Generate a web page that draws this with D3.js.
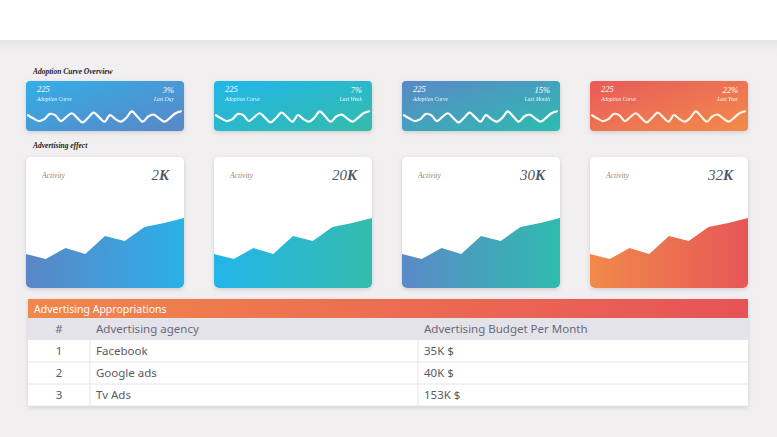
<!DOCTYPE html>
<html><head><meta charset="utf-8">
<script src="https://cdn.jsdelivr.net/npm/d3@7/dist/d3.min.js"></script>
<style>
html,body{margin:0;padding:0;background:#f1eff0;}
svg{display:block;}
</style></head>
<body>
<svg id="chart" width="777" height="437"></svg>
<script>
// ---------- DATA ----------
const overviewCards = ["Last Day", "Last Week", "Last Month", "Last Year"];
const overviewCounts = ["225", "225", "225", "225"];
const overviewPercents = ["3%", "7%", "15%", "22%"];
const sparkValues = [6, 3.5, 1.5, 3, 7, 6, 1.5, 4.5, 7.5, 4, 0.5, 4, 8, 4.5, 1, 6, 3, 1, 4, 9, 5, 1, 5, 6.5, 3.5, 1, 4, 7.5, 9];
const activityTotals = ["2", "20", "30", "32"];
const activityValues = [34, 29, 40, 34, 52, 47, 61, 65, 70];
const tableHeaders = ["#", "Advertising agency", "Advertising Budget Per Month"];
const agencyIds = ["1", "2", "3"];
const agencies = ["Facebook", "Google ads", "Tv Ads"];
const budgets = ["35K $", "40K $", "153K $"];

// ---------- STYLE ----------
const smallGrad = [["#33aee6", "#5b86c6"], ["#22b6ea", "#33bcaa"], ["#5a88c8", "#2dbcb0"], ["#e85a5a", "#f28c4a"]];
const bigGrad = [["#5b86c5", "#2bb0e8"], ["#23b5ea", "#33bcae"], ["#5b89c8", "#2fbbaf"], ["#f18a4a", "#e75658"]];
const serif = "'Liberation Serif','DejaVu Serif',serif";
const sans = "'Noto Sans','Open Sans',sans-serif";

const svg = d3.select("#chart");
const defs = svg.append("defs");

const sh = defs.append("filter").attr("id", "shadow").attr("x", "-10%").attr("y", "-10%").attr("width", "120%").attr("height", "130%");
sh.append("feDropShadow").attr("dx", 0).attr("dy", 1.5).attr("stdDeviation", 2).attr("flood-color", "#8a8a99").attr("flood-opacity", 0.35);

// top band
const topG = defs.append("linearGradient").attr("id", "topShade").attr("x1", 0).attr("y1", 0).attr("x2", 0).attr("y2", 1);
topG.append("stop").attr("offset", 0).attr("stop-color", "#e3e2e6");
topG.append("stop").attr("offset", 1).attr("stop-color", "#f1eff0");
svg.append("rect").attr("x", 0).attr("y", 40).attr("width", 777).attr("height", 10).attr("fill", "url(#topShade)");
svg.append("rect").attr("x", 0).attr("y", 0).attr("width", 777).attr("height", 40).attr("fill", "#ffffff");

// card positions
const xCard = d3.scaleBand().domain(d3.range(4)).range([26, 748]).paddingInner(30 / 188).paddingOuter(0);
const cw = xCard.bandwidth();

// section titles
svg.append("text").attr("x", 33).attr("y", 74).text("Adoption Curve Overview")
  .attr("font-family", serif).attr("font-style", "italic").attr("font-weight", "bold").attr("font-size", 7.5).attr("fill", "#222");
svg.append("text").attr("x", 33).attr("y", 148).text("Advertising effect")
  .attr("font-family", serif).attr("font-style", "italic").attr("font-weight", "bold").attr("font-size", 7.5).attr("fill", "#222");

// ---------- small overview cards ----------
const sy = 81, sh_ = 50;
const sxSpark = d3.scaleLinear().domain([0, sparkValues.length - 1]).range([2, cw - 3]);
const sySpark = d3.scaleLinear().domain([0, 10]).range([sy + 42, sy + 29]);
const sparkLine = d3.line().x((d, i) => sxSpark(i)).y(d => sySpark(d)).curve(d3.curveCatmullRom.alpha(0.5));

overviewCards.forEach((lab, i) => {
  const g = defs.append("linearGradient").attr("id", "sg" + i).attr("x1", 0).attr("y1", 0).attr("x2", 1).attr("y2", 1);
  g.append("stop").attr("offset", 0).attr("stop-color", smallGrad[i][0]);
  g.append("stop").attr("offset", 1).attr("stop-color", smallGrad[i][1]);
  const x0 = xCard(i);
  const c = svg.append("g").attr("transform", `translate(${x0},0)`);
  c.append("rect").attr("x", 0).attr("y", sy).attr("width", cw).attr("height", sh_).attr("rx", 4)
    .attr("fill", `url(#sg${i})`).attr("filter", "url(#shadow)");
  c.append("path").datum(sparkValues).attr("d", sparkLine).attr("fill", "none")
    .attr("stroke", i === 3 ? "#fdf3e0" : "#ffffff").attr("stroke-width", 2.2).attr("stroke-linecap", "round");
  c.append("text").attr("x", 11).attr("y", sy + 11).text(overviewCounts[i])
    .attr("font-family", serif).attr("font-style", "italic").attr("font-size", 8.5).attr("fill", "#fff");
  c.append("text").attr("x", 11).attr("y", sy + 20).text("Adoption Curve")
    .attr("font-family", serif).attr("font-style", "italic").attr("font-size", 5.5).attr("fill", "#fff").attr("opacity", 0.9);
  c.append("text").attr("x", cw - 10).attr("y", sy + 12).attr("text-anchor", "end").text(overviewPercents[i])
    .attr("font-family", serif).attr("font-style", "italic").attr("font-size", 8.5).attr("fill", "#fff");
  c.append("text").attr("x", cw - 10).attr("y", sy + 20).attr("text-anchor", "end").text(lab)
    .attr("font-family", serif).attr("font-style", "italic").attr("font-size", 5.5).attr("fill", "#fff").attr("opacity", 0.9);
});

// ---------- big activity cards ----------
const by = 157, bh = 131;
const bxA = d3.scaleLinear().domain([0, activityValues.length - 1]).range([0, cw]);
const byA = d3.scaleLinear().domain([0, 100]).range([by + bh, by + bh - 100]);
const area = d3.area().x((d, i) => bxA(i)).y0(by + bh).y1(d => byA(d));

activityTotals.forEach((tot, i) => {
  const g = defs.append("linearGradient").attr("id", "bg" + i).attr("x1", 0).attr("y1", 0).attr("x2", 1).attr("y2", 0);
  g.append("stop").attr("offset", 0).attr("stop-color", bigGrad[i][0]);
  g.append("stop").attr("offset", 1).attr("stop-color", bigGrad[i][1]);
  defs.append("clipPath").attr("id", "clip" + i).append("rect")
    .attr("x", 0).attr("y", by).attr("width", cw).attr("height", bh).attr("rx", 5);
  const x0 = xCard(i);
  const c = svg.append("g").attr("transform", `translate(${x0},0)`);
  c.append("rect").attr("x", 0).attr("y", by).attr("width", cw).attr("height", bh).attr("rx", 5)
    .attr("fill", "#fff").attr("filter", "url(#shadow)");
  c.append("path").datum(activityValues).attr("d", area).attr("fill", `url(#bg${i})`).attr("clip-path", `url(#clip${i})`);
  c.append("text").attr("x", 16).attr("y", by + 21).text("Activity")
    .attr("font-family", serif).attr("font-style", "italic").attr("font-size", 7.5).attr("fill", "#888");
  const t = c.append("text").attr("x", cw - 15).attr("y", by + 23).attr("text-anchor", "end")
    .attr("font-family", serif).attr("font-style", "italic").attr("font-size", 15).attr("fill", "#4c5770");
  t.append("tspan").text(tot);
  t.append("tspan").attr("font-weight", "bold").text("K");
});

// ---------- table ----------
const tx0 = 28, tx1 = 748;
const colEdges = [28, 90, 418, 748];
const th = 299, thH = 19, chH = 22, rowH = 22;
const hg = defs.append("linearGradient").attr("id", "tableHead").attr("x1", 0).attr("y1", 0).attr("x2", 1).attr("y2", 0);
hg.append("stop").attr("offset", 0).attr("stop-color", "#f0874b");
hg.append("stop").attr("offset", 1).attr("stop-color", "#e75357");

const tg = svg.append("g");
tg.append("rect").attr("x", tx0).attr("y", th).attr("width", tx1 - tx0).attr("height", thH + chH + rowH * agencies.length)
  .attr("fill", "#fff").attr("filter", "url(#shadow)");
tg.append("rect").attr("x", tx0).attr("y", th).attr("width", tx1 - tx0).attr("height", thH).attr("fill", "url(#tableHead)");
tg.append("text").attr("x", 34).attr("y", th + 14).text("Advertising Appropriations")
  .attr("font-family", sans).attr("font-size", 10.5).attr("fill", "#fff");
const chY = th + thH;
tg.append("rect").attr("x", tx0).attr("y", chY).attr("width", tx1 - tx0).attr("height", chH).attr("fill", "#e4e3ea");

tableHeaders.forEach((h, j) => {
  const cx = j === 0 ? (colEdges[0] + colEdges[1]) / 2 : colEdges[j] + 6;
  tg.append("text").attr("x", cx).attr("y", chY + 15).attr("text-anchor", j === 0 ? "middle" : "start").text(h)
    .attr("font-family", sans).attr("font-size", 11.5).attr("fill", "#6a6a78");
});

const rows = agencies.map((a, k) => [agencyIds[k], a, budgets[k]]);
rows.forEach((r, k) => {
  const ry = chY + chH + k * rowH;
  tg.append("line").attr("x1", tx0).attr("x2", tx1).attr("y1", ry + rowH).attr("y2", ry + rowH)
    .attr("stroke", "#e6e6ea").attr("stroke-width", 1);
  r.forEach((v, j) => {
    const cx = j === 0 ? (colEdges[0] + colEdges[1]) / 2 : colEdges[j] + 6;
    tg.append("text").attr("x", cx).attr("y", ry + 15).attr("text-anchor", j === 0 ? "middle" : "start").text(v)
      .attr("font-family", sans).attr("font-size", 11.5).attr("fill", "#5a5a62");
  });
});
[colEdges[1], colEdges[2]].forEach(x => {
  tg.append("line").attr("x1", x).attr("x2", x).attr("y1", chY).attr("y2", chY + chH + rowH * agencies.length)
    .attr("stroke", "#e4e4ea").attr("stroke-width", 1);
});
</script>
</body></html>
